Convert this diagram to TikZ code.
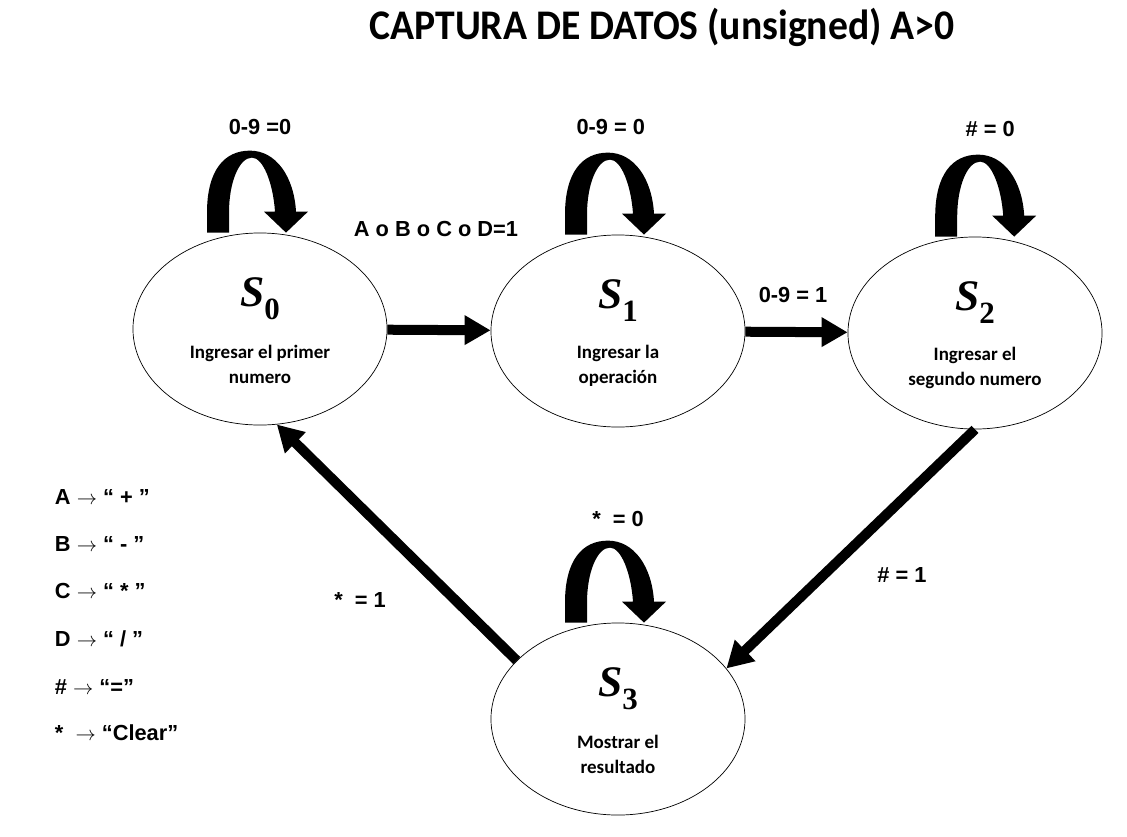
\documentclass[tikz,border=0pt]{standalone}
\usepackage[no-math]{fontspec}
\setmainfont{Liberation Sans}
\newfontfamily\titulofont[FakeStretch=0.94]{Carlito}
\newfontfamily\estadofont{Carlito}
\newfontfamily\simbfont{Liberation Serif}
\usetikzlibrary{shapes.geometric,arrows.meta,calc}
\newcommand{\estadoS}[1]{{\bfseries\itshape S}\raisebox{-0.3em}{\fontsize{22}{24}\selectfont\bfseries #1}}

\begin{document}
\begin{tikzpicture}[x=0.025cm,y=-0.025cm,
  estado/.style={ellipse,draw,line width=0.5pt,minimum width=6.35cm,minimum height=4.8cm,inner sep=0pt},
  flecha/.style={line width=0.25cm,-{Triangle[length=0.65cm,width=0.7cm]}},
  etiq/.style={font=\fontsize{15.5}{18}\selectfont\bfseries},
  nombre/.style={font=\simbfont\fontsize{31}{34}\selectfont},
  texto/.style={font=\estadofont\fontsize{13.5}{17.8}\selectfont\bfseries,align=center},
  leyenda/.style={anchor=west,font=\fontsize{15.5}{18}\selectfont\bfseries},
  titulo/.style={font=\titulofont\fontsize{30}{36}\selectfont\bfseries},
  bucle/.pic={\fill (-53,0) -- (-53,-20) .. controls (-53,-62) and (-36,-82) .. (-10,-82)
    .. controls (16,-82) and (34,-56) .. (36,-21) -- (48,-21) -- (26,0) -- (4,-21) -- (15,-21)
    .. controls (13,-50) and (3,-75) .. (-8,-75)
    .. controls (-21,-75) and (-31,-50) .. (-31,-20) -- (-31,0) -- cycle;}]
\useasboundingbox (0,0) rectangle (1127,837);

\node[titulo] (titulo) at (662,27) {CAPTURA DE DATOS (unsigned) A>0};

% estados
\node[estado] (s0) at (260,329) {};
\node[estado] (s1) at (618,331) {};
\node[estado] (s2) at (975,333) {};
\node[estado] (s3) at (618,719) {};

\node[nombre] (n0) at ($(s0)+(0,-30)$) {\estadoS{0}};
\node[nombre] (n1) at ($(s1)+(0,-30)$) {\estadoS{1}};
\node[nombre] (n2) at ($(s2)+(0,-30)$) {\estadoS{2}};
\node[nombre] (n3) at ($(s3)+(0,-30)$) {\estadoS{3}};

\node[texto] (t0) at ($(s0)+(0,35)$) {Ingresar el primer\\numero};
\node[texto] (t1) at ($(s1)+(0,35)$) {Ingresar la\\operación};
\node[texto] (t2) at ($(s2)+(0,35)$) {Ingresar el\\segundo numero};
\node[texto] (t3) at ($(s3)+(0,35)$) {Mostrar el\\resultado};

% lazos
\pic at (s0.north) {bucle};
\pic at (s1.north) {bucle};
\pic at ([xshift=0.33cm]s2.north) {bucle};
\pic at (s3.north) {bucle};

\node[etiq] (b0) at ([yshift=2.65cm]s0.north) {0-9 =0};
\node[etiq] (b1) at ([xshift=-0.18cm,yshift=2.7cm]s1.north) {0-9 = 0};
\node[etiq] (b2) at ([xshift=0.38cm,yshift=2.68cm]s2.north) {\# = 0};
\node[etiq] (b3) at ([yshift=2.58cm]s3.north) {*\ \ = 0};

% transiciones
\draw[flecha] (s0) -- (s1);
\draw[flecha] (s1) -- (s2);
\draw[flecha] (s2.south) -- (s3.25);
\draw[flecha] (s3.150) -- (s0.-80);

\node[etiq] (c01) at (436,229) {A o B o C o D=1};
\node[etiq] (c12) at (793,295) {0-9 = 1};
\node[etiq] (c23) at (902,575) {\# = 1};
\node[etiq] (c30) at (360,600) {*\ \ = 1};

% leyenda
\node[leyenda] (l1) at (50,497) {A $\rightarrow$ “ + ”};
\node[leyenda] (l2) at (50,544) {B $\rightarrow$ “ - ”};
\node[leyenda] (l3) at (50,591) {C $\rightarrow$ “ * ”};
\node[leyenda] (l4) at (50,639) {D $\rightarrow$ “ / ”};
\node[leyenda] (l5) at (50,687) {\# $\rightarrow$ “=”};
\node[leyenda] (l6) at (50,733) {*\ \ $\rightarrow$ “Clear”};
\end{tikzpicture}
\end{document}
